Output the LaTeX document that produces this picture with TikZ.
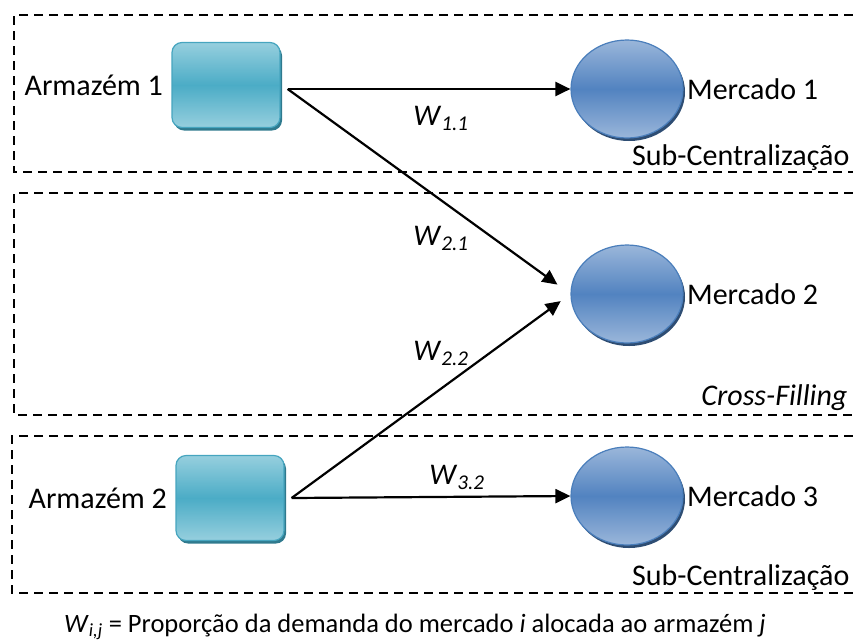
\documentclass[tikz,border=0pt]{standalone}
\usepackage{fontspec}
\setmainfont{Carlito}
\usetikzlibrary{positioning,shapes.geometric,shadows,arrows.meta}

\definecolor{teallight}{HTML}{96CFDE}
\definecolor{tealmid}{HTML}{4BACC6}
\definecolor{tealline}{HTML}{46A5BF}
\definecolor{tealdark}{HTML}{2F7A8E}
\definecolor{bluelight}{HTML}{9AB6DA}
\definecolor{bluemid}{HTML}{5283C0}
\definecolor{blueline}{HTML}{4A7EBB}
\definecolor{bluedark}{HTML}{2E4D73}

\newcommand{\labelfont}{\fontsize{30}{34}\selectfont}
\newcommand{\wsub}[1]{\textit{W}\textsubscript{\textit{#1}}}

\begin{document}
\begin{tikzpicture}[x=1pt, y=-1pt,
        every node/.style={font=\labelfont},
        armazem/.style={rectangle, rounded corners=10pt, minimum width=108pt, minimum height=85pt,
            draw=tealline, line width=1.2pt, top color=teallight, bottom color=teallight, middle color=tealmid,
            drop shadow={shadow xshift=2pt, shadow yshift=-3pt, fill=tealdark, opacity=1}},
        mercado/.style={ellipse, minimum width=112pt, minimum height=98pt,
            draw=blueline, line width=1.2pt, top color=bluelight, bottom color=bluelight, middle color=bluemid,
            drop shadow={shadow xshift=2pt, shadow yshift=-3pt, fill=bluedark, opacity=1}},
        zone/.style={line width=2.4pt, dash pattern=on 9pt off 6pt},
        arrow/.style={-{Triangle[length=15pt,width=14pt]}, line width=2.2pt}
    ]
    \useasboundingbox (0,0) rectangle (853,641);

    % dashed zones, open on the right
    \draw[zone] (853,15) -| (14,172) -- (853,172);
    \draw[zone] (853,193) -| (14,415) -- (853,415);
    \draw[zone] (853,436) -| (12,593) -- (853,593);

    \node[armazem] (a1) at (226,85) {};
    \node[armazem] (a2) at (230,498) {};
    \node[mercado] (m1) at (627,89) {};
    \node[mercado] (m2) at (627,294) {};
    \node[mercado] (m3) at (627,496) {};

    \node[left=5pt of a1] (a1label) {Armazém 1};
    \node[left=5pt of a2] (a2label) {Armazém 2};
    \node[right=0pt of m1] (m1label) {Mercado 1};
    \node[right=0pt of m2] (m2label) {Mercado 2};
    \node[right=0pt of m3] (m3label) {Mercado 3};

    \draw[arrow] ([xshift=7pt,yshift=-4pt]a1.east) -- (m1.west);
    \draw[arrow, shorten >=16pt] ([xshift=7pt,yshift=-4pt]a1.east) -- (m2.west);
    \draw[arrow, shorten >=12pt] ([xshift=7pt]a2.east) -- (m2.west);
    \draw[arrow] ([xshift=7pt]a2.east) -- (m3.west);

    \node (w11) at (441,118) {\wsub{1.1}};
    \node (w21) at (441,238) {\wsub{2.1}};
    \node (w22) at (441,353) {\wsub{2.2}};
    \node (w32) at (457,477) {\wsub{3.2}};

    \node[anchor=east] (zone1) at (853,158) {Sub-Centralização};
    \node[anchor=east, font=\labelfont\itshape] (zone2) at (851,398) {Cross-Filling};
    \node[anchor=east] (zone3) at (853,578) {Sub-Centralização};

    \node[font=\fontsize{26.5}{30}\selectfont] (legend) at (415,627)
        {\wsub{i,j} = Proporção da demanda do mercado \textit{i} alocada ao armazém \textit{j}};
\end{tikzpicture}
\end{document}
